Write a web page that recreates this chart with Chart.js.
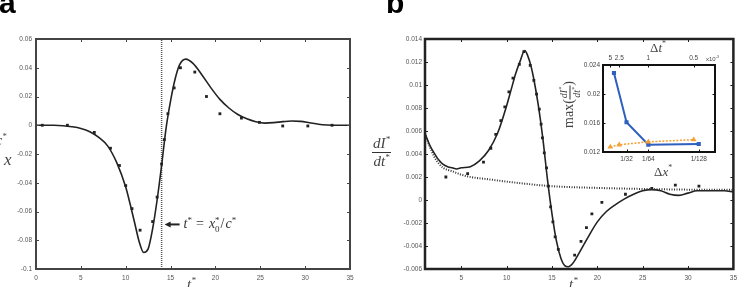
<!DOCTYPE html>
<html><head><meta charset="utf-8">
<script src="https://cdn.jsdelivr.net/npm/chart.js@4.4.1/dist/chart.umd.min.js"></script>
<style>
html,body{margin:0;padding:0;background:#fff}
body{width:742px;height:287px;overflow:hidden;position:relative;font-family:"Liberation Serif",serif}
canvas{position:absolute}
.t{position:absolute;white-space:nowrap;color:#222;line-height:1}
.it{font-style:italic;font-family:"Liberation Serif",serif}
.panel{font-family:"Liberation Sans",Arial,sans-serif;font-weight:bold;font-size:30px;color:#000}
.frac{display:inline-flex;flex-direction:column;align-items:center;vertical-align:middle}
.frac .num{border-bottom:1.2px solid #333;padding:0 1px 1px 1px}
.frac .den{padding-top:1px}
sup{font-size:60%;vertical-align:top;position:relative;top:-0.1em}
</style></head><body>
<canvas id="ca" width="371" height="287" style="left:0;top:0"></canvas>
<canvas id="cb" width="371" height="287" style="left:371px;top:0"></canvas>
<canvas id="ci" width="175" height="135" style="left:560px;top:40px"></canvas>

<div class="t panel" style="left:-1px;top:-12px">a</div>
<div class="t panel" style="left:386px;top:-12px">b</div>

<div class="t it" style="left:-4px;top:134px;font-size:14px;color:#444">c<sup>*</sup></div>
<div class="t it" style="left:4px;top:151px;font-size:17px;color:#444">x</div>
<div class="t it" style="left:187px;top:277px;font-size:15px;color:#444">t<sup>*</sup></div>

<div class="t it" style="left:372px;top:136px;font-size:15px;color:#444"><span class="frac"><span class="num">dI<sup>*</sup></span><span class="den">dt<sup>*</sup></span></span></div>
<div class="t it" style="left:569px;top:277px;font-size:15px;color:#444">t<sup>*</sup></div>

<div class="t" style="left:532px;top:93px;width:76px;text-align:center;font-size:14px;color:#444;transform:rotate(-90deg);font-family:'Liberation Serif',serif">max(<span class="frac it" style="font-size:10px"><span class="num">dI<sup>*</sup></span><span class="den">dt<sup>*</sup></span></span>)</div>
<div class="t" style="left:650px;top:41px;font-size:13px;color:#444">Δ<span class="it">t</span><sup>*</sup></div>
<div class="t" style="left:654px;top:165px;font-size:13px;color:#444">Δ<span class="it">x</span><sup>*</sup></div>
<div class="t" style="left:706px;top:56px;font-size:6px;color:#444;font-family:'Liberation Sans',sans-serif">x10<sup>-3</sup></div>

<script>
// ---------- Panel a ----------
const aXTicks = [0,5,10,15,20,25,30,35];
const aYTicks = [-0.1,-0.08,-0.06,-0.04,-0.02,0,0.02,0.04,0.06];
const aCurveT = [0,1,2,3,4,5,6,7,8,9,10,10.5,11,11.5,12,12.5,13,13.5,14,14.5,15,15.5,16,16.7,17.5,18.5,19.5,20.5,21.5,22.5,23.5,24.5,25.5,26.5,27.5,28.5,29.5,30.5,31.5,32.5,33.5,35];
const aCurveY = [0,0,0,-0.0003,-0.001,-0.0022,-0.0045,-0.0085,-0.0145,-0.026,-0.043,-0.055,-0.068,-0.081,-0.0885,-0.086,-0.072,-0.052,-0.028,-0.002,0.017,0.032,0.042,0.046,0.043,0.035,0.026,0.018,0.012,0.0075,0.0045,0.0025,0.0015,0.0018,0.0025,0.003,0.0027,0.0017,0.0007,0.0002,0,0];
const aPtsT = [0.7,3.5,6.5,8.3,9.3,10.0,10.7,11.6,13.0,13.5,14.0,14.3,14.7,15.4,16.1,17.7,19.0,20.5,22.9,24.9,27.5,30.3,33.0];
const aPtsY = [0,0,-0.005,-0.016,-0.028,-0.042,-0.058,-0.073,-0.067,-0.050,-0.027,-0.010,0.008,0.026,0.040,0.037,0.020,0.008,0.005,0.002,-0.0005,-0.0005,0];
const aMarkT = 14;          // t* = x0*/c*
const aNoteY = -0.069;      // height of the annotation arrow

// ---------- Panel b ----------
const bXTicks = [5,10,15,20,25,30,35];
const bYTicks = [-0.006,-0.004,-0.002,0,0.002,0.004,0.006,0.008,0.01,0.012,0.014];
const bCurveT = [1,1.5,2,2.5,3,3.5,4,4.5,5,6,7,8,9,10,10.5,11,11.5,12,12.3,12.7,13,13.5,14,14.5,15,15.5,16,16.4,16.8,17.3,18,19,20,21,22,23,24,25,26,27,28,29,30,31,32,33,34,35];
const bCurveY = [0.0058,0.0048,0.0041,0.0035,0.0031,0.0029,0.0028,0.0027,0.0028,0.0029,0.0034,0.0043,0.0058,0.0082,0.0096,0.011,0.0121,0.013,0.0126,0.0116,0.0105,0.0082,0.0053,0.0018,-0.0012,-0.0036,-0.0051,-0.0057,-0.0058,-0.0055,-0.0046,-0.0032,-0.0019,-0.001,-0.0004,0.0001,0.0005,0.0008,0.0009,0.0008,0.0005,0.0004,0.0006,0.0008,0.0008,0.0008,0.0008,0.0007];
const bDotT = [1,1.5,2,2.5,3,4,5,6,8,10,12,15,20,25,30,35];
const bDotY = [0.0058,0.0047,0.0038,0.0032,0.0028,0.0025,0.0022,0.002,0.0018,0.0016,0.00142,0.0012,0.00105,0.00096,0.0009,0.00088];
const bPtsT = [3.3,5.7,7.45,8.26,8.8,9.36,9.8,10.25,10.7,11.4,11.9,12.6,13.0,13.3,13.6,13.8,13.95,14.15,14.4,14.6,14.85,15.1,15.35,15.7,17.5,18.2,18.8,19.4,20.5,23.1,26.0,28.6,31.2];
const bPtsY = [0.002,0.0023,0.0033,0.0045,0.0057,0.0069,0.0081,0.0094,0.0106,0.0118,0.0129,0.0117,0.0104,0.0092,0.0079,0.0066,0.0054,0.0041,0.0028,0.0012,-0.0006,-0.0019,-0.0032,-0.0043,-0.0048,-0.0036,-0.0024,-0.0012,-0.0002,0.0005,0.001,0.0013,0.0012];

// ---------- Inset (axis positions are in the inset's own 0-100 units) ----------
const insetBottomTicks = [21,40.5,85.5];
const insetBottomLabels = ['1/32','1/64','1/128'];
const insetTopTicks = [6.5,14.5,40.5,81];
const insetTopLabels = ['5','2.5','1','0.5'];
const insetYTicks = [0.012,0.016,0.02,0.024];
const insetDxPos = [9.8,21,40.5,85.5];
const insetDxMax = [0.0229,0.0161,0.013,0.0131];
const insetDtPos = [6.5,14.5,40.5,81];
const insetDtMax = [0.0127,0.013,0.0134,0.0137];

const xy = (xs, ys) => xs.map((x,i)=>({x, y: ys[i]}));
const fmt = v => String(+(+v).toFixed(4));

const framePlugin = {
  id:'frame',
  afterDraw(chart, args, o){
    const ctx = chart.ctx, a = chart.chartArea;
    ctx.save();
    ctx.strokeStyle = o.color; ctx.lineWidth = 1;
    ctx.beginPath();
    const tl = o.tick;
    (o.bottom||[]).forEach(id=>{ const s=chart.scales[id]; s.ticks.forEach(t=>{const p=Math.round(s.getPixelForValue(t.value))+0.5; ctx.moveTo(p,a.bottom); ctx.lineTo(p,a.bottom-tl);}); });
    (o.top||[]).forEach(id=>{ const s=chart.scales[id]; s.ticks.forEach(t=>{const p=Math.round(s.getPixelForValue(t.value))+0.5; ctx.moveTo(p,a.top); ctx.lineTo(p,a.top+tl);}); });
    (o.side||[]).forEach(id=>{ const s=chart.scales[id]; s.ticks.forEach(t=>{const p=Math.round(s.getPixelForValue(t.value))+0.5; ctx.moveTo(a.left,p); ctx.lineTo(a.left+tl,p); ctx.moveTo(a.right,p); ctx.lineTo(a.right-tl,p);}); });
    ctx.stroke();
    ctx.lineWidth = o.width;
    ctx.strokeRect(a.left, a.top, a.right-a.left, a.bottom-a.top);
    ctx.restore();
  }
};

const notePlugin = {
  id:'note',
  afterDraw(chart){
    const ctx = chart.ctx, xs = chart.scales.x, ys = chart.scales.y;
    const y = ys.getPixelForValue(aNoteY);
    const x0 = xs.getPixelForValue(aMarkT) + 3;
    ctx.save();
    ctx.strokeStyle = '#222'; ctx.fillStyle = '#222'; ctx.lineWidth = 2;
    ctx.beginPath(); ctx.moveTo(x0+4, y); ctx.lineTo(x0+15, y); ctx.stroke();
    ctx.beginPath(); ctx.moveTo(x0, y); ctx.lineTo(x0+6, y-3); ctx.lineTo(x0+6, y+3); ctx.closePath(); ctx.fill();
    ctx.fillStyle = '#333';
    ctx.textBaseline = 'alphabetic';
    let x = x0 + 19; const base = y + 4;
    const seg = (txt, font, dy, adv) => { ctx.font = font; ctx.fillText(txt, x, base+dy); if (adv!==false) x += ctx.measureText(txt).width; };
    const big = '14px "Liberation Serif"', bigI = 'italic 14px "Liberation Serif"', small = '9px "Liberation Serif"';
    seg('t', bigI, 0); seg('*', small, -5); x += 4;
    seg('=', big, 0); x += 5;
    seg('x', bigI, 0); seg('*', small, -5, false); seg('0', small, 4); x += 1;
    seg('/', big, 0); x += 1;
    seg('c', bigI, 0); seg('*', small, -5);
    ctx.restore();
  }
};

const tickFont = {family:'"Liberation Sans", Arial, sans-serif', size:6.5};
function axis(min, max, ticks, fit, extra){
  return Object.assign({
    type:'linear', min, max,
    afterBuildTicks(s){ s.ticks = ticks.map(v=>({value:v})); },
    afterFit: fit,
    grid:{display:true, drawOnChartArea:false, drawTicks:false},
    border:{display:false},
    ticks:{font:tickFont, color:'#555', padding:4, autoSkip:false, maxRotation:0, callback:fmt}
  }, extra||{});
}

// Panel a
new Chart(document.getElementById('ca'), {
  type:'line',
  data:{datasets:[
    {data: xy(aCurveT,aCurveY), borderColor:'#222', borderWidth:1.6, pointRadius:0, cubicInterpolationMode:'monotone', fill:false},
    {data: [{x:aMarkT,y:aYTicks[0]},{x:aMarkT,y:aYTicks[aYTicks.length-1]}], borderColor:'#555', borderWidth:1.5, borderDash:[1,1], pointRadius:0},
    {data: xy(aPtsT,aPtsY), showLine:false, pointStyle:'rect', pointRadius:2, backgroundColor:'#222', borderColor:'#222', borderWidth:0}
  ]},
  options:{
    responsive:false, animation:false, events:[],
    plugins:{legend:{display:false}, tooltip:{enabled:false}, frame:{color:'#444', width:2, tick:3, bottom:['x'], top:['x'], side:['y']}},
    layout:{padding:{left:0,right:21,top:39,bottom:0}},
    scales:{
      x: axis(0,35,aXTicks,s=>{s.height=18;},{ticks:{font:tickFont,color:'#555',padding:5,autoSkip:false,maxRotation:0,callback:fmt}}),
      y: axis(-0.1,0.06,aYTicks,s=>{s.width=36;})
    }
  },
  plugins:[framePlugin, notePlugin]
});

// Panel b
new Chart(document.getElementById('cb'), {
  type:'line',
  data:{datasets:[
    {data: xy(bDotT,bDotY), borderColor:'#333', borderWidth:2, borderDash:[1,1.5], pointRadius:0, cubicInterpolationMode:'monotone', fill:false},
    {data: xy(bCurveT,bCurveY), borderColor:'#222', borderWidth:1.6, pointRadius:0, cubicInterpolationMode:'monotone', fill:false},
    {data: xy(bPtsT,bPtsY), showLine:false, pointStyle:'rect', pointRadius:2, backgroundColor:'#222', borderColor:'#222', borderWidth:0}
  ]},
  options:{
    responsive:false, animation:false, events:[],
    plugins:{legend:{display:false}, tooltip:{enabled:false}, frame:{color:'#222', width:2.5, tick:3, bottom:['x'], top:['x'], side:['y']}},
    layout:{padding:{left:0,right:7,top:39,bottom:0}},
    scales:{
      x: axis(1,35,bXTicks,s=>{s.height=18;},{ticks:{font:tickFont,color:'#555',padding:5,autoSkip:false,maxRotation:0,callback:fmt}}),
      y: axis(-0.006,0.014,bYTicks,s=>{s.width=54;},{ticks:{font:tickFont,color:'#555',padding:3,autoSkip:false,maxRotation:0,callback:fmt}})
    }
  },
  plugins:[framePlugin]
});

// Inset
new Chart(document.getElementById('ci'), {
  type:'line',
  data:{datasets:[
    {data: xy(insetDtPos,insetDtMax), xAxisID:'x2', borderColor:'#f5a032', borderWidth:1.5, borderDash:[2,1.5], pointStyle:'triangle', pointRadius:1.8, backgroundColor:'#f5a032', fill:false},
    {data: xy(insetDxPos,insetDxMax), xAxisID:'x', borderColor:'#2f5fbf', borderWidth:2, pointStyle:'rect', pointRadius:1.5, backgroundColor:'#2f5fbf', fill:false}
  ]},
  options:{
    responsive:false, animation:false, events:[],
    plugins:{legend:{display:false}, tooltip:{enabled:false}, frame:{color:'#111', width:2, tick:2.5, bottom:['x'], top:['x2'], side:['y']}},
    layout:{padding:{left:0,right:20,top:0,bottom:0}},
    scales:{
      x: axis(0,100,insetBottomTicks,s=>{s.height=23;},{position:'bottom',ticks:{font:tickFont,color:'#444',padding:3,autoSkip:false,maxRotation:0,callback:(v,i)=>insetBottomLabels[i]}}),
      x2: axis(0,100,insetTopTicks,s=>{s.height=25;},{position:'top',ticks:{font:tickFont,color:'#444',padding:3,autoSkip:false,maxRotation:0,callback:(v,i)=>insetTopLabels[i]}}),
      y: axis(0.012,0.024,insetYTicks,s=>{s.width=43;},{ticks:{font:tickFont,color:'#444',padding:3,autoSkip:false,maxRotation:0,callback:fmt}})
    }
  },
  plugins:[framePlugin]
});
</script>
</body></html>
